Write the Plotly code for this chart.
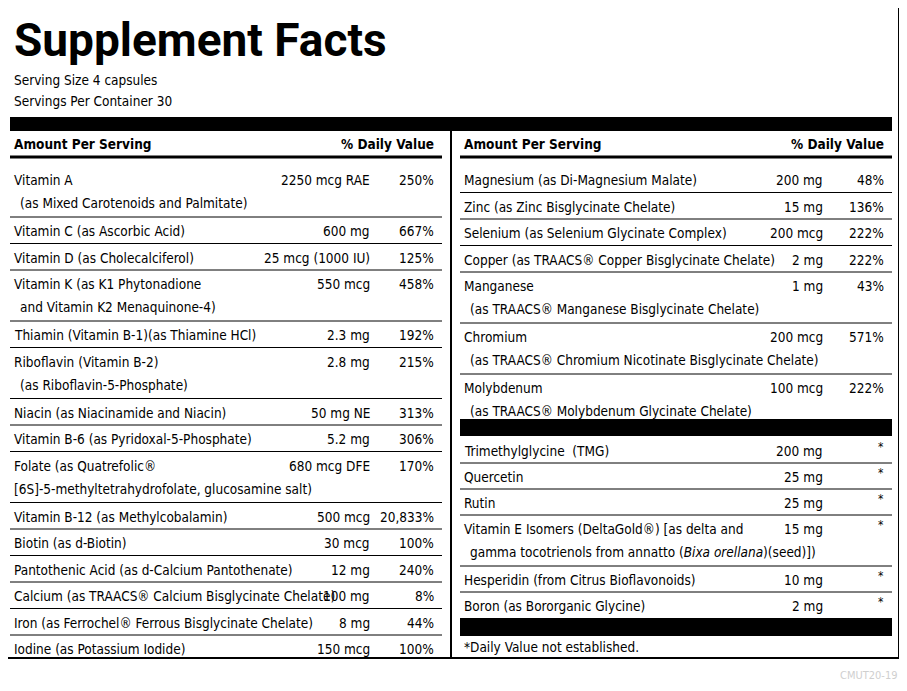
import plotly.graph_objects as go

title = "Supplement Facts"
serving = ["Serving Size 4 capsules", "Servings Per Container 30"]

left_names = [
    "Vitamin A<br>  (as Mixed Carotenoids and Palmitate)",
    "Vitamin C (as Ascorbic Acid)",
    "Vitamin D (as Cholecalciferol)",
    "Vitamin K (as K1 Phytonadione<br>  and Vitamin K2 Menaquinone-4)",
    "Thiamin (Vitamin B-1)(as Thiamine HCl)",
    "Riboflavin (Vitamin B-2)<br>  (as Riboflavin-5-Phosphate)",
    "Niacin (as Niacinamide and Niacin)",
    "Vitamin B-6 (as Pyridoxal-5-Phosphate)",
    "Folate (as Quatrefolic®<br>[6S]-5-methyltetrahydrofolate, glucosamine salt)",
    "Vitamin B-12 (as Methylcobalamin)",
    "Biotin (as d-Biotin)",
    "Pantothenic Acid (as d-Calcium Pantothenate)",
    "Calcium (as TRAACS® Calcium Bisglycinate Chelate)",
    "Iron (as Ferrochel® Ferrous Bisglycinate Chelate)",
    "Iodine (as Potassium Iodide)",
]
left_amounts = ["2250 mcg RAE", "600 mg", "25 mcg (1000 IU)", "550 mcg", "2.3 mg", "2.8 mg",
                "50 mg NE", "5.2 mg", "680 mcg DFE", "500 mcg", "30 mcg", "12 mg", "100 mg", "8 mg", "150 mcg"]
left_dv = ["250%", "667%", "125%", "458%", "192%", "215%", "313%", "306%", "170%",
           "20,833%", "100%", "240%", "8%", "44%", "100%"]

right_names = [
    "Magnesium (as Di-Magnesium Malate)",
    "Zinc (as Zinc Bisglycinate Chelate)",
    "Selenium (as Selenium Glycinate Complex)",
    "Copper (as TRAACS® Copper Bisglycinate Chelate)",
    "Manganese<br>  (as TRAACS® Manganese Bisglycinate Chelate)",
    "Chromium<br>  (as TRAACS® Chromium Nicotinate Bisglycinate Chelate)",
    "Molybdenum<br>  (as TRAACS® Molybdenum Glycinate Chelate)",
]
right_amounts = ["200 mg", "15 mg", "200 mcg", "2 mg", "1 mg", "200 mcg", "100 mcg"]
right_dv = ["48%", "136%", "222%", "222%", "43%", "571%", "222%"]

other_names = [
    "Trimethylglycine  (TMG)",
    "Quercetin",
    "Rutin",
    "Vitamin E Isomers (DeltaGold®) [as delta and<br>  gamma tocotrienols from annatto (<i>Bixa orellana</i>)(seed)])",
    "Hesperidin (from Citrus Bioflavonoids)",
    "Boron (as Bororganic Glycine)",
]
other_amounts = ["200 mg", "25 mg", "25 mg", "15 mg", "10 mg", "2 mg"]
other_dv = ["*", "*", "*", "*", "*", "*"]

footnote = "*Daily Value not established."
other_ingr = "<b>Other Ingredients:</b> Cellulose (capsule), microcrystalline cellulose, vegetable stearate, sunflower lecithin, silicon dioxide."
code = "CMUT20-19"

FONT = "DejaVu Sans Condensed, Liberation Sans Narrow, Liberation Sans, sans-serif"
FS = 13.5
shapes, ann = [], []

def txt(x, y, s, anchor="left", size=FS, color="black", family=FONT, yanchor="middle"):
    ann.append(dict(x=x, y=y, text=s, showarrow=False, xanchor=anchor, yanchor=yanchor,
                    align="left", font=dict(family=family, size=size, color=color),
                    xref="x", yref="y"))

def line(x0, x1, y, w=1):
    shapes.append(dict(type="line", x0=x0, x1=x1, y0=y, y1=y, line=dict(color="black", width=w),
                       xref="x", yref="y"))

def bar(x0, x1, y0, y1):
    shapes.append(dict(type="rect", x0=x0, x1=x1, y0=y0, y1=y1, fillcolor="black",
                       line=dict(width=0), xref="x", yref="y"))

def part_text(part):
    return "\u2002" + part[2:] if part.startswith("  ") else part

shapes.append(dict(type="rect", x0=3, x1=899, y0=3, y1=658, line=dict(color="black", width=2),
                   xref="x", yref="y"))
shapes.append(dict(type="line", x0=451, x1=451, y0=131, y1=658, line=dict(color="black", width=2),
                   xref="x", yref="y"))
txt(12, 40, "<b>" + title + "</b>", size=46, family="Roboto, Liberation Sans")
txt(12, 80, serving[0], size=13.5)
txt(12, 101, serving[1], size=13.5)
bar(10, 892, 117, 131)

for x0, x1 in [(10, 442), (460, 892)]:
    txt(x0 + 2, 144, "<b>Amount Per Serving</b>")
    txt(x1 - 6, 144, "<b>% Daily Value</b>", anchor="right")
    line(x0, x1, 157, 3)

def column(names, amounts, dvs, x0, x1, amt_x, top, first_pad):
    y = top
    for i, (n, a, d) in enumerate(zip(names, amounts, dvs)):
        nl = n.count("<br>") + 1
        h = 26.5 if nl == 1 else 51
        ty = y
        if i == 0:
            h += first_pad
            ty = y + first_pad
        for k, part in enumerate(n.split("<br>")):
            txt(x0 + 2, ty + 14 + 23 * k, part_text(part))
        txt(amt_x, ty + 14, a, anchor="right")
        txt(x1 - 6, ty + 14, d, anchor="right")
        y += h
        if i < len(names) - 1:
            line(x0, x1, y)
    return y

column(left_names, left_amounts, left_dv, 10, 442, 372, 158, 8)
column(right_names, right_amounts, right_dv, 460, 892, 825, 158, 8)
bar(460, 892, 419, 436)
y = 437
for i, (n, a, d) in enumerate(zip(other_names, other_amounts, other_dv)):
    nl = n.count("<br>") + 1
    h = 26 if nl == 1 else 51
    for k, part in enumerate(n.split("<br>")):
        txt(462, y + 14 + 23 * k, part_text(part))
    txt(825, y + 14, a, anchor="right")
    txt(886, y + 10, d, anchor="right", size=12)
    y += h
    if i < len(other_names) - 1:
        line(460, 892, y)
bar(460, 892, 618, 636)
txt(462, 647, footnote)
txt(4, 675, other_ingr, size=13.5)
txt(900, 675, code, anchor="right", size=11, color="#cfcfcf")

# page body has an 8px margin: shift the figure so coordinates match screen pixels
fig = go.Figure()
fig.update_layout(width=899, height=683, margin=dict(l=0, r=0, t=0, b=0),
                  paper_bgcolor="white", plot_bgcolor="white",
                  xaxis=dict(range=[8, 907], visible=False, fixedrange=True),
                  yaxis=dict(range=[691, 8], visible=False, fixedrange=True),
                  shapes=shapes, annotations=ann, showlegend=False)
fig.write_html("out.html", config={"displayModeBar": False})
